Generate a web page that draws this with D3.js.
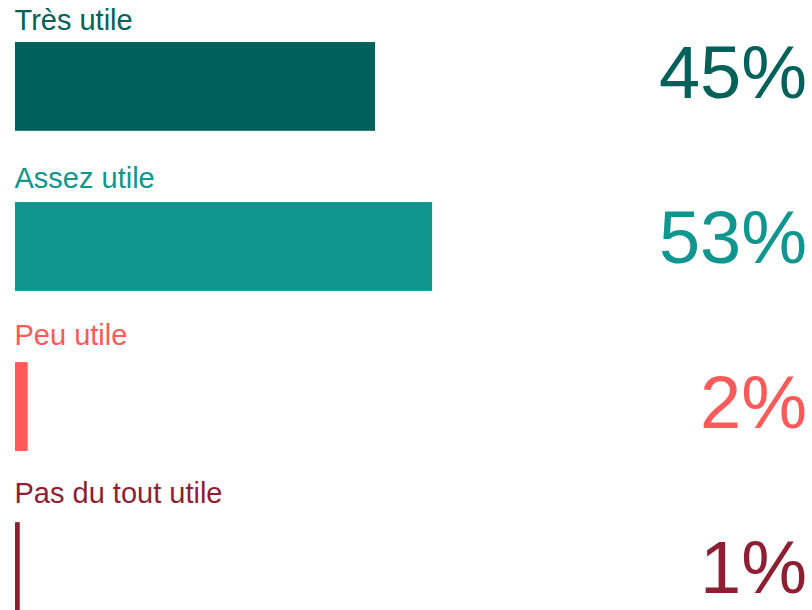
<!DOCTYPE html>
<html><head><meta charset="utf-8">
<script src="https://cdn.jsdelivr.net/npm/d3@7"></script>
<style>html,body{margin:0;padding:0;background:#fff;}svg{display:block;}</style>
</head><body>
<svg id="chart" width="812" height="610"></svg>
<script>
const categories = ["Très utile", "Assez utile", "Peu utile", "Pas du tout utile"];
const values = [45.4, 52.6, 1.6, 0.6];
const valueLabels = ["45%", "53%", "2%", "1%"];
const colors = ["#00615A", "#10958F", "#FF5A5A", "#8C1F32"];

const svg = d3.select("#chart");
const font = "Liberation Sans, Arial, Helvetica, sans-serif";

const x = d3.scaleLinear().domain([0, 100]).range([15, 808]);
const yBar = d3.scaleBand().domain(categories).range([42, 611]).paddingInner(0.445).paddingOuter(0);
const yLabel = d3.scalePoint().domain(categories).range([30, 503]);
const yValue = d3.scalePoint().domain(categories).range([98, 593]);

const rows = svg.selectAll("g.row").data(categories).join("g").attr("class", "row");

rows.append("rect")
  .attr("x", x(0))
  .attr("y", d => yBar(d))
  .attr("width", (d, i) => x(values[i]) - x(0))
  .attr("height", yBar.bandwidth())
  .attr("fill", (d, i) => colors[i]);

rows.append("text")
  .attr("x", 14.5)
  .attr("y", d => yLabel(d))
  .attr("font-family", font)
  .attr("font-size", 29)
  .attr("fill", (d, i) => colors[i])
  .text(d => d);

rows.append("text")
  .attr("x", 807)
  .attr("y", d => yValue(d))
  .attr("text-anchor", "end")
  .attr("font-family", font)
  .attr("font-size", 74)
  .attr("fill", (d, i) => colors[i])
  .text((d, i) => valueLabels[i]);
</script>
</body></html>
